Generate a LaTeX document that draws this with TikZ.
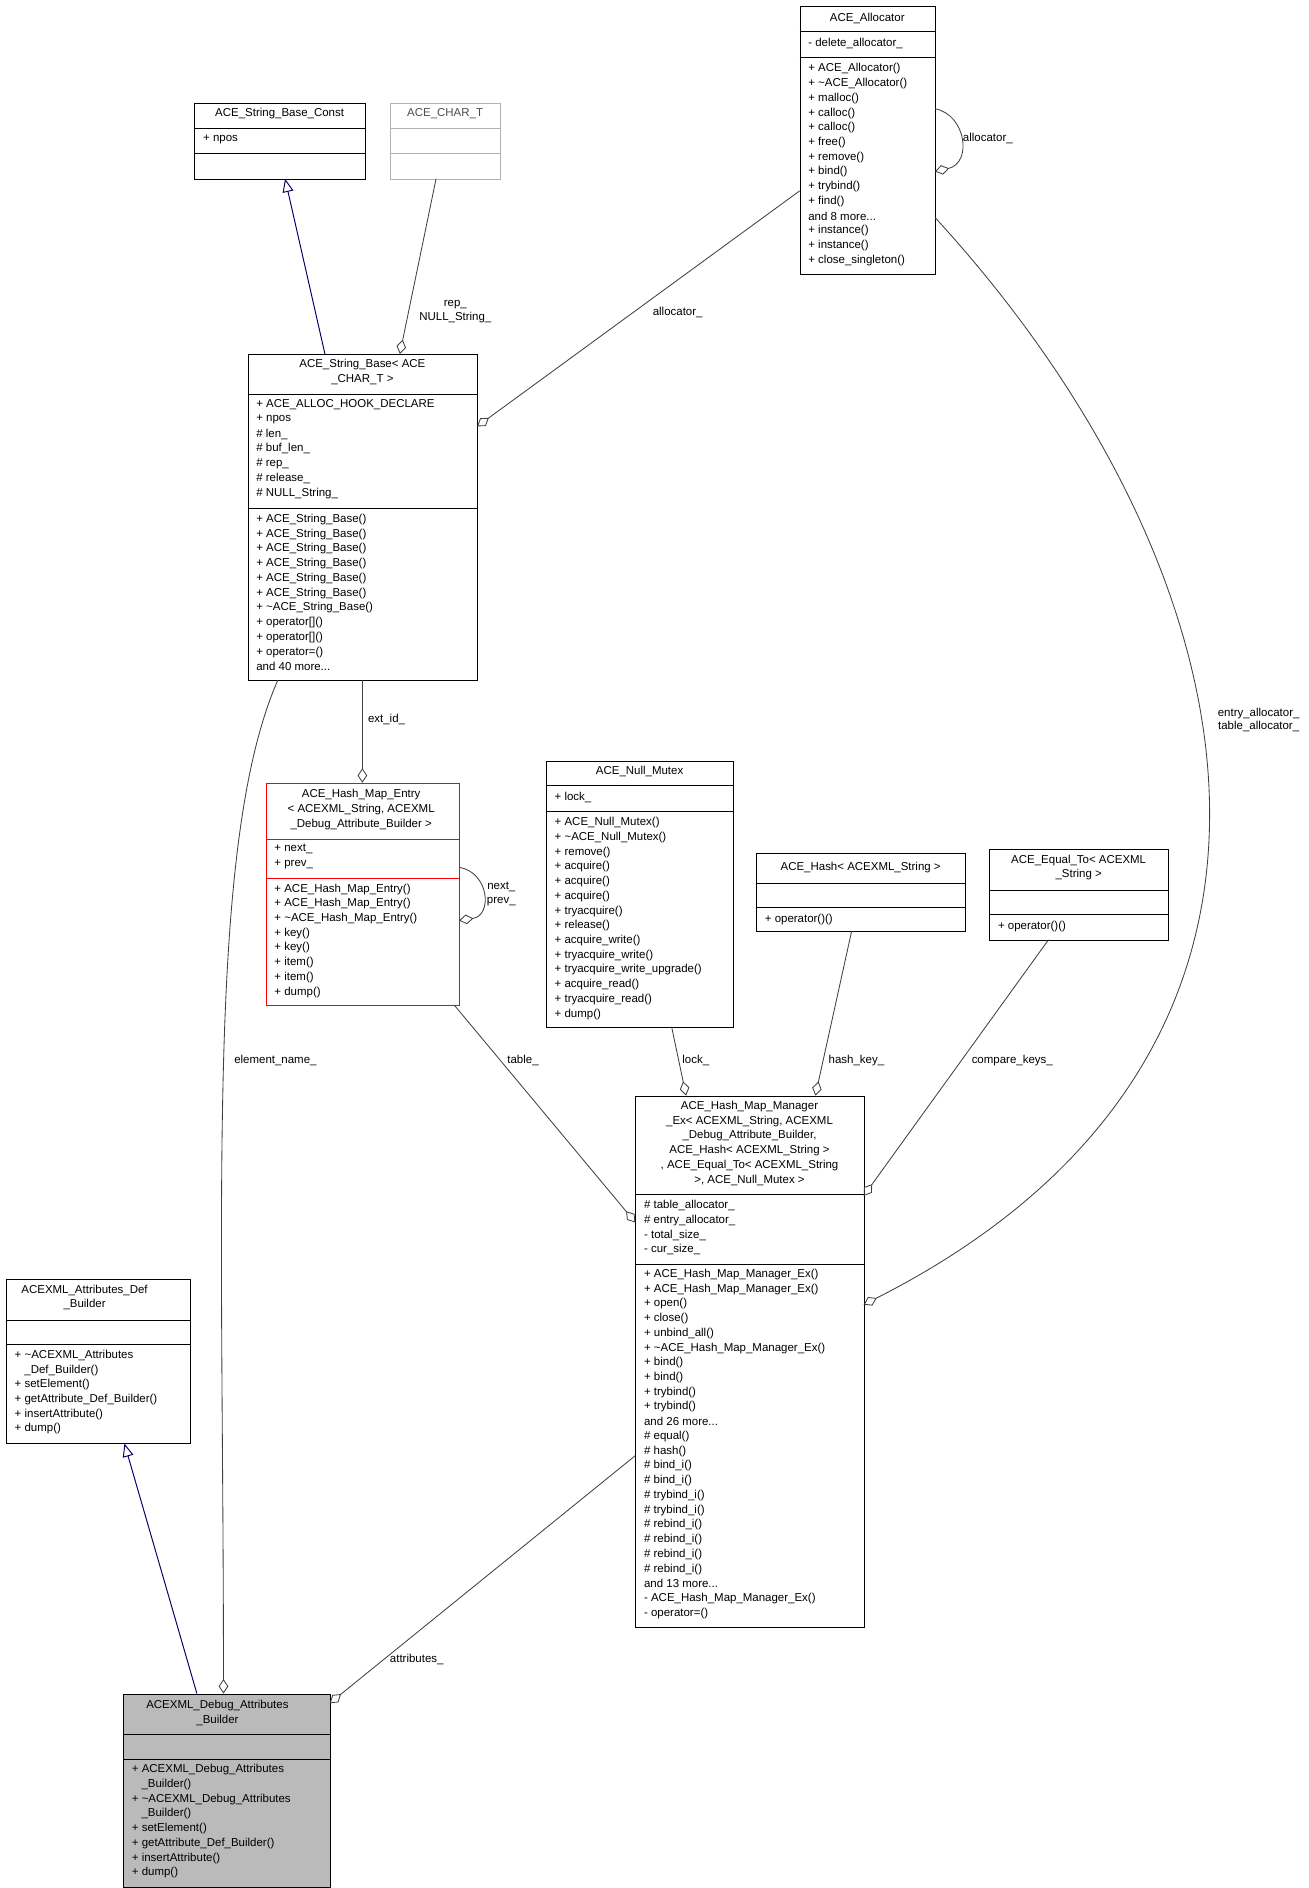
\documentclass[tikz,border=0pt]{standalone}
\usepackage{fontspec}
\setmainfont{Liberation Sans}
\usetikzlibrary{arrows.meta}
\newcommand\ul{\_}
\newcommand\tl{\textasciitilde}
\newcommand\mdots{...}
\newcommand\mlines[3]{\foreach \t [count=\i from 0] in {#3} {\node[txt] at (#1,#2+\i*12.2) {\t};}}
\newcommand\clines[3]{\foreach \t [count=\i from 0] in {#3} {\node[ctxt] at (#1,#2+\i*12.2) {\t};}}
\begin{document}
\begin{tikzpicture}[x=1pt,y=-1pt,
  txt/.style={anchor=west,inner sep=0pt,font=\fontsize{9.5}{11}\selectfont},
  ctxt/.style={anchor=center,inner sep=0pt,font=\fontsize{9.5}{11}\selectfont},
  lbl/.style={inner sep=0pt,font=\fontsize{9.5}{11}\selectfont,align=center},
  cls/.style={draw,line width=0.8pt,anchor=north west,inner sep=0pt},
  agg/.style={-{Diamond[open,length=12pt,width=8pt]},line width=0.7pt,draw=black!75},
  inh/.style={-{Triangle[open,length=11pt,width=9pt]},line width=0.8pt,draw=blue!40!black}]
\useasboundingbox (0,0) rectangle (1083,1563);
% boxes
\node[cls,minimum width=141pt,minimum height=63pt] (sbc) at (161,85) {};
\draw (161,106)--(302,106) (161,127)--(302,127);
\clines{231.5}{94}{ACE\ul String\ul Base\ul Const}
\mlines{168}{115}{+ npos}
\node[cls,draw=black!30,minimum width=91pt,minimum height=63pt] (chart) at (323,85) {};
\draw[black!30] (323,106)--(414,106) (323,127)--(414,127);
\node[ctxt,text=black!70] at (368.5,94) {ACE\ul CHAR\ul T};
\node[cls,minimum width=112pt,minimum height=222pt] (alloc) at (662,5) {};
\draw (662,26)--(774,26) (662,47)--(774,47);
\clines{718}{15}{ACE\ul Allocator}
\mlines{669}{36}{- delete\ul allocator\ul}
\mlines{669}{57}{+ ACE\ul Allocator(),+ \tl ACE\ul Allocator(),+ malloc(),+ calloc(),+ calloc(),+ free(),+ remove(),+ bind(),+ trybind(),+ find(),and 8 more\mdots,+ instance(),+ instance(),+ close\ul singleton()}
\node[cls,minimum width=190pt,minimum height=270pt] (sb) at (205,293) {};
\draw (205,326)--(395,326) (205,421)--(395,421);
\clines{300}{302}{ACE\ul String\ul Base< ACE,\ul CHAR\ul T >}
\mlines{212}{335}{+ ACE\ul ALLOC\ul HOOK\ul DECLARE,+ npos,\# len\ul,\# buf\ul len\ul,\# rep\ul,\# release\ul,\# NULL\ul String\ul}
\mlines{212}{430}{+ ACE\ul String\ul Base(),+ ACE\ul String\ul Base(),+ ACE\ul String\ul Base(),+ ACE\ul String\ul Base(),+ ACE\ul String\ul Base(),+ ACE\ul String\ul Base(),+ \tl ACE\ul String\ul Base(),+ operator[](),+ operator[](),+ operator=(),and 40 more\mdots}
\node[cls,draw=red,minimum width=160pt,minimum height=184pt] (hme) at (220,648) {};
\draw[red] (220,695)--(380,695) (220,727)--(380,727);
\clines{299}{658}{ACE\ul Hash\ul Map\ul Entry\hspace{26pt},{< ACEXML\ul String, ACEXML},\ul Debug\ul Attribute\ul Builder >}
\mlines{227}{703}{+ next\ul,+ prev\ul}
\mlines{227}{736}{+ ACE\ul Hash\ul Map\ul Entry(),+ ACE\ul Hash\ul Map\ul Entry(),+ \tl ACE\ul Hash\ul Map\ul Entry(),+ key(),+ key(),+ item(),+ item(),+ dump()}
\node[cls,minimum width=155pt,minimum height=220pt] (mtx) at (452,630) {};
\draw (452,650)--(607,650) (452,672)--(607,672);
\clines{529.5}{639}{ACE\ul Null\ul Mutex}
\mlines{459}{660}{+ lock\ul}
\mlines{459}{681}{+ ACE\ul Null\ul Mutex(),+ \tl ACE\ul Null\ul Mutex(),+ remove(),+ acquire(),+ acquire(),+ acquire(),+ tryacquire(),+ release(),+ acquire\ul write(),+ tryacquire\ul write(),+ tryacquire\ul write\ul upgrade(),+ acquire\ul read(),+ tryacquire\ul read(),+ dump()}
\node[cls,minimum width=173pt,minimum height=65pt] (hash) at (626,706) {};
\draw (626,731)--(799,731) (626,751)--(799,751);
\clines{712.5}{718}{ACE\ul Hash< ACEXML\ul String >}
\mlines{633}{761}{+ operator()()}
\node[cls,minimum width=148pt,minimum height=75pt] (eq) at (819,703) {};
\draw (819,737)--(967,737) (819,757)--(967,757);
\clines{893}{712}{ACE\ul Equal\ul To< ACEXML,\ul String >}
\mlines{826}{767}{+ operator()()}
\node[cls,minimum width=189pt,minimum height=440pt] (mgr) at (526,907) {};
\draw (526,989)--(715,989) (526,1047)--(715,1047);
\clines{620.5}{916}{ACE\ul Hash\ul Map\ul Manager\hspace{38pt},{\ul Ex< ACEXML\ul String, ACEXML},{\ul Debug\ul Attribute\ul Builder,\hspace{10pt}},ACE\ul Hash< ACEXML\ul String >,{, ACE\ul Equal\ul To< ACEXML\ul String},{>, ACE\ul Null\ul Mutex >}}
\mlines{533}{998}{\# table\ul allocator\ul,\# entry\ul allocator\ul,- total\ul size\ul,- cur\ul size\ul}
\mlines{533}{1055}{+ ACE\ul Hash\ul Map\ul Manager\ul Ex(),+ ACE\ul Hash\ul Map\ul Manager\ul Ex(),+ open(),+ close(),+ unbind\ul all(),+ \tl ACE\ul Hash\ul Map\ul Manager\ul Ex(),+ bind(),+ bind(),+ trybind(),+ trybind(),and 26 more\mdots,\# equal(),\# hash(),\# bind\ul i(),\# bind\ul i(),\# trybind\ul i(),\# trybind\ul i(),\# rebind\ul i(),\# rebind\ul i(),\# rebind\ul i(),\# rebind\ul i(),and 13 more\mdots,- ACE\ul Hash\ul Map\ul Manager\ul Ex(),- operator=()}
\node[cls,minimum width=152pt,minimum height=136pt] (adb) at (5,1059) {};
\draw (5,1093)--(157,1093) (5,1113)--(157,1113);
\clines{70}{1068}{ACEXML\ul Attributes\ul Def,\ul Builder}
\mlines{12}{1122}{+ \tl ACEXML\ul Attributes,\hspace{8pt}\ul Def\ul Builder(),+ setElement(),+ getAttribute\ul Def\ul Builder(),+ insertAttribute(),+ dump()}
\node[cls,fill=black!27,minimum width=171pt,minimum height=160pt] (dab) at (102,1402) {};
\draw (102,1436)--(273,1436) (102,1456)--(273,1456);
\clines{180}{1412}{ACEXML\ul Debug\ul Attributes,\ul Builder}
\mlines{109}{1465}{+ ACEXML\ul Debug\ul Attributes,\hspace{8pt}\ul Builder(),+ \tl ACEXML\ul Debug\ul Attributes,\hspace{8pt}\ul Builder(),+ setElement(),+ getAttribute\ul Def\ul Builder(),+ insertAttribute(),+ dump()}
% connectors
\coordinate (a1) at (269,293); \coordinate (a2) at (236,148);
\draw[inh] (a1) -- (a2);
\coordinate (b1) at (361,148); \coordinate (b2) at (331,293);
\draw[agg] (b1) -- (b2);
\node[lbl,anchor=east] at (407,258) {rep\ul\\NULL\ul String\ul};
\coordinate (c1) at (662,158); \coordinate (c2) at (395,353);
\draw[agg] (c1) -- (c2);
\node[lbl] at (561,259) {allocator\ul};
\coordinate (d1) at (774,90); \coordinate (d2) at (774,142);
\draw[agg] (d1) .. controls (800,95) and (805,135) .. (d2);
\node[lbl,anchor=west] at (797,115) {allocator\ul};
\coordinate (e1) at (774,180); \coordinate (e2) at (715,1080);
\draw[agg] (e1) .. controls (1040,470) and (1130,870) .. (e2);
\node[lbl] at (1042,596) {entry\ul allocator\ul\\table\ul allocator\ul};
\coordinate (f1) at (300,563); \coordinate (f2) at (300,648);
\draw[agg] (f1) -- (f2);
\node[lbl] at (320,596) {ext\ul id\ul};
\coordinate (g1) at (230,563); \coordinate (g2) at (185,1402);
\draw[agg] (g1) .. controls (170,700) and (185,1000) .. (g2);
\node[lbl] at (228,878) {element\ul name\ul};
\coordinate (h1) at (380,718); \coordinate (h2) at (380,762);
\draw[agg] (h1) .. controls (405,722) and (408,758) .. (h2);
\node[lbl] at (415,740) {next\ul\\prev\ul};
\coordinate (i1) at (376,832); \coordinate (i2) at (526,1012);
\draw[agg] (i1) -- (i2);
\node[lbl] at (433,878) {table\ul};
\coordinate (j1) at (556,850); \coordinate (j2) at (568,907);
\draw[agg] (j1) -- (j2);
\node[lbl] at (576,878) {lock\ul};
\coordinate (k1) at (705,771); \coordinate (k2) at (675,907);
\draw[agg] (k1) -- (k2);
\node[lbl] at (709,878) {hash\ul key\ul};
\coordinate (l1) at (868,778); \coordinate (l2) at (715,990);
\draw[agg] (l1) -- (l2);
\node[lbl] at (838,878) {compare\ul keys\ul};
\coordinate (m1) at (526,1205); \coordinate (m2) at (273,1410);
\draw[agg] (m1) -- (m2);
\node[lbl] at (345,1374) {attributes\ul};
\coordinate (n1) at (163,1402); \coordinate (n2) at (103,1195);
\draw[inh] (n1) -- (n2);
\end{tikzpicture}
\end{document}
